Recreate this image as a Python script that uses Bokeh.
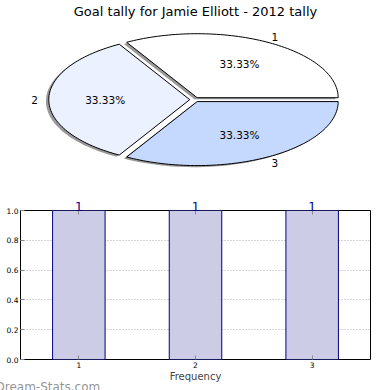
import numpy as np
from bokeh.plotting import figure
from bokeh.models import ColumnDataSource, Label, FixedTicker, Range1d, LinearAxis, Title
from bokeh.layouts import column
from bokeh.embed import file_html
from bokeh.resources import INLINE
from bokeh.core.properties import value

# ---- data ----
title_text = "Goal tally for Jamie Elliott - 2012 tally"
pie_labels = ["1", "2", "3"]
pie_values = [1, 1, 1]
pie_colors = ["#ffffff", "#ebf1fe", "#c5d8fd"]

bar_x = [1, 2, 3]
bar_heights = [1, 1, 1]
bar_tick_labels = ["1", "2", "3"]
y_ticks = [0.0, 0.2, 0.4, 0.6, 0.8, 1.0]
x_axis_label = "Frequency"
watermark = "Dream-Stats.com"

FONT = "DejaVu Sans"
W = 390
H1 = 188
H2 = 390 - H1
BL, BR = 20, 20          # side borders (frame spans 20..370)
FW = W - BL - BR

# ---- pie (ellipse because of unequal axis scaling) ----
rx_px, ry_px = 141.0, 64.0
cx_px, cy_px = 194.2 - BL, 99.15
x0 = -cx_px / rx_px
y1 = cy_px / ry_px
pie = figure(width=W, height=H1, output_backend="svg", toolbar_location=None,
             x_axis_type=None, y_axis_type=None,
             x_range=Range1d(x0, x0 + FW / rx_px), y_range=Range1d(y1 - H1 / ry_px, y1),
             min_border_left=BL, min_border_right=BR, min_border_top=0, min_border_bottom=0,
             outline_line_color=None)
pie.grid.visible = False

explode = 0.035
vals = np.array(pie_values, dtype=float)
fracs = vals / vals.sum()
ends = np.cumsum(fracs) * 2 * np.pi
starts = ends - fracs * 2 * np.pi
xs, ys, sxs, sys_ = [], [], [], []
lab_x, lab_y, pct_x, pct_y, pct_txt = [], [], [], [], []
for s, e, f in zip(starts, ends, fracs):
    mid = (s + e) / 2
    ox, oy = explode * np.cos(mid), explode * np.sin(mid)
    t = np.linspace(s, e, 80)
    px = list(ox + np.cos(t)) + [ox]
    py = list(oy + np.sin(t)) + [oy]
    xs.append(px); ys.append(py)
    sxs.append([v - 0.02 for v in px]); sys_.append([v - 0.025 for v in py])
    lab_x.append(ox + 1.1 * np.cos(mid)); lab_y.append(oy + 1.1 * np.sin(mid))
    pct_x.append(ox + 0.6 * np.cos(mid)); pct_y.append(oy + 0.6 * np.sin(mid))
    pct_txt.append("%.2f%%" % (f * 100))

pie.patches(sxs, sys_, fill_color="#555555", fill_alpha=0.6, line_color=None)
pie.patches(xs, ys, fill_color=pie_colors, line_color="black", line_width=1)
pie.text(lab_x, lab_y, text=pie_labels, text_font=value(FONT), text_font_size="10.5px",
         text_align="center", text_baseline="middle", text_color="black")
pie.text(pct_x, pct_y, text=pct_txt, text_font=value(FONT), text_font_size="10.5px",
         text_align="center", text_baseline="middle", text_color="black")
pie.add_layout(Label(x=W / 2 - BL, y=H1 - 3, x_units="screen", y_units="screen", text=title_text,
                     text_font=FONT, text_font_size="13px", text_align="center",
                     text_baseline="top", text_color="black"))

# ---- bar chart ----
bar = figure(width=W, height=H2, output_backend="svg", toolbar_location=None,
             x_range=Range1d(0.5, 3.5), y_range=Range1d(0, 1),
             min_border_top=22, min_border_right=BR, min_border_left=BL, min_border_bottom=0,
             outline_line_color="black", outline_line_width=1)
src = ColumnDataSource(dict(x=bar_x, top=bar_heights))
bar.vbar(x="x", top="top", width=0.45, source=src, fill_color="#ccccE6",
         line_color="#000080", line_width=1)

bar.xaxis.ticker = FixedTicker(ticks=bar_x)
bar.xaxis.major_label_overrides = {x: l for x, l in zip(bar_x, bar_tick_labels)}
bar.yaxis.ticker = FixedTicker(ticks=y_ticks)
bar.yaxis.major_label_overrides = {t: "%.1f" % t for t in y_ticks}
for ax in (bar.xaxis[0], bar.yaxis[0]):
    ax.major_tick_in = 4
    ax.major_tick_out = 0
    ax.minor_tick_in = 0
    ax.minor_tick_out = 0
    ax.axis_line_color = None
    ax.major_tick_line_color = "#888888"
    ax.major_label_text_font = FONT
    ax.major_label_text_font_size = "7.5px"
    ax.major_label_text_color = "black"
    ax.major_label_standoff = 2
bar.xaxis.axis_label = x_axis_label
bar.xaxis.axis_label_text_font = FONT
bar.xaxis.axis_label_text_font_size = "10px"
bar.xaxis.axis_label_text_font_style = "normal"
bar.xaxis.axis_label_standoff = 0
bar.grid.grid_line_color = "#999999"
bar.grid.grid_line_dash = "1 2"
bar.grid.grid_line_alpha = 0.8

# value labels above the bars (top axis)
val_axis = LinearAxis(ticker=FixedTicker(ticks=bar_x),
                      major_label_overrides={x: str(v) for x, v in zip(bar_x, bar_heights)},
                      axis_line_color=None, major_tick_in=4, major_tick_out=0,
                      major_tick_line_color="#888888", minor_tick_line_color=None,
                      major_label_standoff=0, major_label_text_font=FONT,
                      major_label_text_font_size="12px", major_label_text_color="#000080")
bar.add_layout(val_axis, "above")

# watermark at the bottom-left
wm = Title(text=watermark, align="left", vertical_align="top", offset=-25, standoff=-10,
           text_font=FONT, text_font_size="12px", text_font_style="normal",
           text_color="#808080", text_alpha=0.85)
bar.add_layout(wm, "below")

layout = column(pie, bar, spacing=0)
open("out.html", "w").write(file_html(layout, INLINE))
